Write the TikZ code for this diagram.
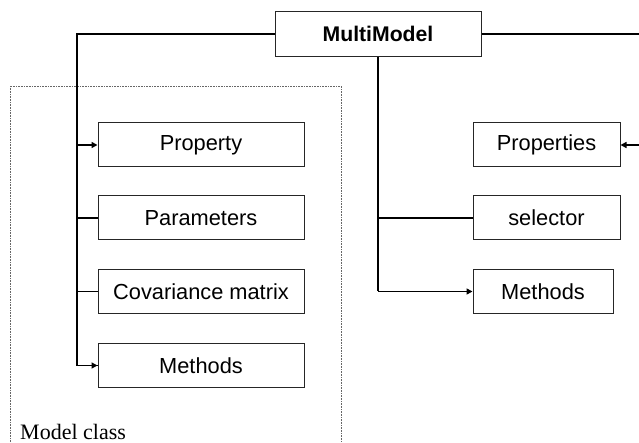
\documentclass[tikz,border=0pt]{standalone}
\usepackage{fontspec}
\setmainfont{Liberation Serif}
\setsansfont{Liberation Sans}
\usetikzlibrary{arrows.meta}
\begin{document}
\begin{tikzpicture}[x=1pt,y=-1pt,
  box/.style={draw=black!85,line width=1pt,minimum height=44pt,inner sep=0pt,
    font=\sffamily\fontsize{21.8}{24}\selectfont},
  lbox/.style={box,minimum width=206pt},
  rbox/.style={box,minimum width=147pt},
  conn/.style={line width=1.2pt},
  arr/.style={line width=1.5pt,-{Triangle[length=6pt,width=6pt]}},
  frame/.style={draw=black!60,line width=0.9pt,dash pattern=on 0.8pt off 0.8pt}]
\useasboundingbox (0,0) rectangle (639,443);
\clip (0,0) rectangle (639,443);
% dotted model class frame
\draw[frame] (10,86) rectangle (341,460);
\node[anchor=base west,inner sep=0pt,font=\fontsize{22}{24}\selectfont] (lbl) at (20,439) {Model class};
% nodes
\node[box,minimum width=206pt,minimum height=45pt,font=\sffamily\bfseries\fontsize{21.2}{24}\selectfont] (mm) at (378,34) {MultiModel};
\node[lbox] (prop) at (201,145) {Property};
\node[lbox] (par) at (201,218) {Parameters};
\node[lbox] (cov) at (201,291.5) {Covariance matrix};
\node[lbox] (mthl) at (201,365.5) {Methods};
\node[rbox] (props) at (546.5,145) {Properties};
\node[rbox] (sel) at (546.5,218) {selector};
\node[box,minimum width=140pt] (mthr) at (543,291.5) {Methods};
% left spine
\coordinate (spl) at (77,34);
\draw[conn] (mm.west) -- (spl) |- (mthl.west);
\draw[arr] (mthl.west -| spl) -- (mthl.west);
\draw[arr] (prop.west -| spl) -- (prop.west);
\draw[conn] (par.west -| spl) -- (par.west);
\draw[conn] (cov.west -| spl) -- (cov.west);
% right spine
\draw[conn] (mm.south) -- (mm.south |- mthr.west);
\draw[conn] (mm.south |- sel.west) -- (sel.west);
\draw[arr] (mm.south |- mthr.west) -- (mthr.west);
% outer loop to Properties
\coordinate (far) at (660,34);
\draw[conn] (mm.east) -- (far) -- (far |- props.east);
\draw[arr] (far |- props.east) -- (props.east);
\end{tikzpicture}
\end{document}
